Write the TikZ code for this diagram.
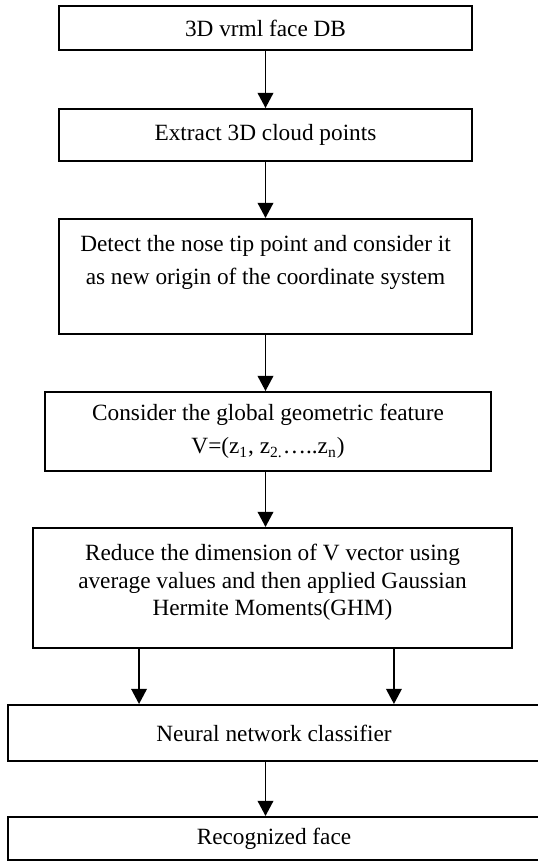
\documentclass[tikz,border=0pt]{standalone}
\usepackage{fontspec}
\setmainfont{Liberation Serif}
\usetikzlibrary{arrows.meta,positioning,calc}

\begin{document}
\begin{tikzpicture}[x=0.5155pt, y=-0.5155pt,
  bx/.style={draw, line width=1pt, align=center, inner sep=0pt, font=\fontsize{12}{14.2}\selectfont},
  wide/.style={font=\fontsize{12}{17}\selectfont},
  >={Triangle[length=7.8pt,width=8pt]}, every path/.style={line width=1pt}]
  \useasboundingbox (0,0) rectangle (538,861);
  \node[bx, minimum width=212.9pt, minimum height=22.7pt] (db) at (265.5,28) {3D vrml face DB};
  \node[bx, minimum width=212.9pt, minimum height=26.8pt] (pts) at (265.5,135) {Extract 3D cloud points};
  \node[bx, wide, minimum width=212.9pt, minimum height=59.3pt] (nose) at (265.5,276.5)
    {Detect the nose tip point and consider it\\as new origin of the coordinate system\\ \mbox{}};
  \node[bx, wide, minimum width=229.9pt, minimum height=40.7pt] (feat) at (268,431.5)
    {Consider the global geometric feature\\V=(z\textsubscript{1}, z\textsubscript{2.}\ldots..z\textsubscript{n})};
  \node[bx, minimum width=246.9pt, minimum height=61.9pt] (ghm) at (272.5,588)
    {Reduce the dimension of V vector using\\average values and then applied Gaussian\\Hermite Moments(GHM)\\[-6pt] \mbox{}};
  \node[bx, minimum width=274.3pt, minimum height=28.9pt] (nn) at (274,733) {Neural network classifier};
  \node[bx, minimum width=274.3pt, minimum height=22.2pt] (face) at (274,838.5) {Recognized face};
  \draw[->] (db) -- (pts);
  \draw[->] (pts) -- (nose);
  \draw[->] (db |- nose.south) -- (db |- feat.north);
  \draw[->] (db |- feat.south) -- (db |- ghm.north);
  \draw[->] ([xshift=-68.8pt]ghm.south) -- ([xshift=-68.8pt]ghm.south |- nn.north);
  \draw[->] ([xshift=62.6pt]ghm.south) -- ([xshift=62.6pt]ghm.south |- nn.north);
  \draw[->] (db |- nn.south) -- (db |- face.north);
\end{tikzpicture}
\end{document}
